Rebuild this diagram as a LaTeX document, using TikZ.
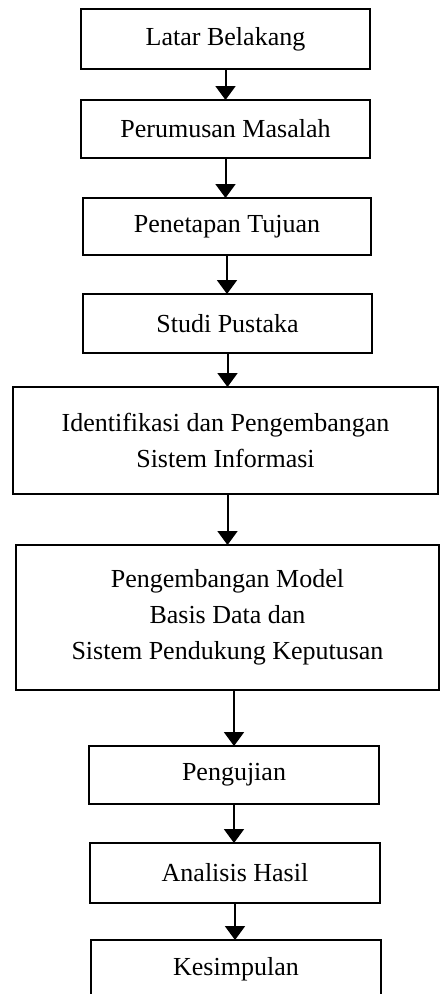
\documentclass[tikz,border=0pt]{standalone}
\usepackage{fontspec}
\setmainfont{Liberation Serif}
\usetikzlibrary{arrows.meta}
\begin{document}
\begin{tikzpicture}[x=1pt,y=-1pt,
  stagebox/.style={draw=black,line width=2pt,fill=white,align=center,
    inner sep=0pt,outer sep=0pt,
    font=\fontsize{26}{36}\selectfont},
  flowarrow/.style={line width=2pt,-{Triangle[width=20pt,length=14pt]}}]
\path[use as bounding box] (0,0) rectangle (440,994);
\clip (0,0) rectangle (440,994);
\fill[white] (0,0) rectangle (440,994);

\node[stagebox,minimum width=289pt,minimum height=60pt] (b1) at (225.5,39) {Latar Belakang};
\node[stagebox,minimum width=289pt,minimum height=58pt] (b2) at (225.5,129) {Perumusan Masalah};
\node[stagebox,minimum width=288pt,minimum height=57pt] (b3) at (227,226.5) {Penetapan Tujuan};
\node[stagebox,minimum width=289pt,minimum height=59pt] (b4) at (227.5,323.5) {Studi Pustaka};
\node[stagebox,minimum width=425pt,minimum height=107pt] (b5) at (225.5,440.5)
  {Identifikasi dan Pengembangan\\Sistem Informasi};
\node[stagebox,minimum width=423pt,minimum height=145pt] (b6) at (227.5,617.5)
  {Pengembangan Model\\Basis Data dan\\Sistem Pendukung Keputusan};
\node[stagebox,minimum width=290pt,minimum height=58pt] (b7) at (234,775) {Pengujian};
\node[stagebox,minimum width=290pt,minimum height=60pt] (b8) at (235,873) {Analisis Hasil};
\node[stagebox,minimum width=290pt,minimum height=58pt] (b9) at (236,969) {Kesimpulan};

\draw[flowarrow] (b1.south) -- (b2.north -| b1.south);
\draw[flowarrow] (b2.south) -- (b3.north -| b2.south);
\draw[flowarrow] (b3.south) -- (b4.north -| b3.south);
\draw[flowarrow] (b4.south) -- (b5.north -| b4.south);
\draw[flowarrow] (b5.south -| b6.north) -- (b6.north);
\draw[flowarrow] (b6.south -| b7.north) -- (b7.north);
\draw[flowarrow] (b7.south) -- (b8.north -| b7.south);
\draw[flowarrow] (b8.south) -- (b9.north -| b8.south);
\end{tikzpicture}
\end{document}
